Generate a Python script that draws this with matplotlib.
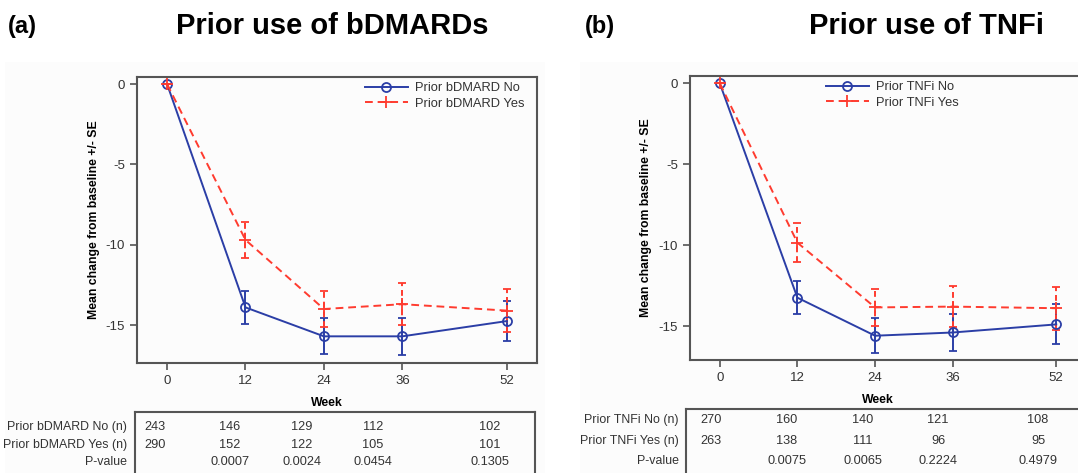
import matplotlib.pyplot as plt
from matplotlib.lines import Line2D
from matplotlib.patches import Rectangle

plt.rcParams['font.family'] = ['Liberation Sans', 'DejaVu Sans']

W, H = 1078, 473

weeks = [0, 12, 24, 36, 52]

bdmard_no_mean = [0, -13.9, -15.7, -15.7, -14.75]
bdmard_no_se = [0, 1.05, 1.13, 1.16, 1.27]
bdmard_yes_mean = [0, -9.7, -14.0, -13.7, -14.1]
bdmard_yes_se = [0, 1.14, 1.14, 1.32, 1.32]

tnfi_no_mean = [0, -13.25, -15.6, -15.4, -14.9]
tnfi_no_se = [0, 1.03, 1.08, 1.16, 1.24]
tnfi_yes_mean = [0, -9.85, -13.85, -13.8, -13.9]
tnfi_yes_se = [0, 1.2, 1.15, 1.25, 1.34]

bdmard_no_n = ['243', '146', '129', '112', '102']
bdmard_yes_n = ['290', '152', '122', '105', '101']
bdmard_p = ['', '0.0007', '0.0024', '0.0454', '0.1305']

tnfi_no_n = ['270', '160', '140', '121', '108']
tnfi_yes_n = ['263', '138', '111', '96', '95']
tnfi_p = ['', '0.0075', '0.0065', '0.2224', '0.4979']

BLUE = '#2b3ea6'
RED = '#ff3b2f'
GRAY = '#555555'
TXT = '#333333'
DASH = (0, (4, 2.5))


def px_axes(fig, left, top, right, bottom, **kw):
    # pixel box -> figure fraction
    return fig.add_axes([left / W, (H - bottom) / H, (right - left) / W, (bottom - top) / H], **kw)


def draw_panel(fig, box, ylim, no_mean, no_se, yes_mean, yes_se, label_no, label_yes,
               leg_xy, ylab_x):
    ax = px_axes(fig, *box)
    ax.set_facecolor('none')
    ax.errorbar(weeks, no_mean, yerr=no_se, color=BLUE, lw=1.4, marker='o', ms=6.5,
                mfc='none', mew=1.3, capsize=3, elinewidth=1.4, capthick=1.4)
    eb = ax.errorbar(weeks, yes_mean, yerr=yes_se, color=RED, lw=1.4, ls=DASH,
                     marker='+', ms=8, mew=1.3, capsize=3, elinewidth=1.4, capthick=1.4)
    eb[2][0].set_linestyle((0, (3, 2)))
    ax.set_xlim(-4.6, 56.6)
    ax.set_ylim(*ylim)
    ax.set_xticks(weeks)
    ax.set_yticks([0, -5, -10, -15])
    ax.set_yticklabels(['0', '-5', '-10', '-15'])
    ax.tick_params(colors=GRAY, labelcolor=TXT, labelsize=9.5, length=5, width=1.2)
    for s in ax.spines.values():
        s.set_color(GRAY)
        s.set_linewidth(1.5)
    ax.set_ylabel('Mean change from baseline +/- SE', fontsize=8.8, fontweight='bold')
    ax.yaxis.set_label_coords(ylab_x, 0.5)
    ax.set_xlabel('Week', fontsize=8.8, fontweight='bold')
    ax.xaxis.set_label_coords(0.475, -0.118)

    handles = [Line2D([], [], color=BLUE, lw=1.4, marker='o', ms=6.5, mfc='none', mew=1.3),
               Line2D([], [], color=RED, lw=1.4, ls=DASH, marker='+', ms=8, mew=1.3)]
    fig.legend(handles, [label_no, label_yes], loc='upper left',
               bbox_to_anchor=(leg_xy[0] / W, 1 - leg_xy[1] / H), frameon=False,
               fontsize=9.3, handlelength=3.3, handletextpad=0.55, labelspacing=0.3,
               borderpad=0, borderaxespad=0, labelcolor=TXT)
    return ax


def draw_table(fig, left, top, right, rows_y, label_x, col_off, rows):
    tab = px_axes(fig, left, top, right, H + 5)
    tab.set_xlim(0, right - left)
    tab.set_ylim(H + 5 - top, 0)
    tab.set_xticks([])
    tab.set_yticks([])
    tab.set_facecolor('none')
    for s in tab.spines.values():
        s.set_color(GRAY)
        s.set_linewidth(1.5)
    for (name, vals), y in zip(rows, rows_y):
        fig.text(label_x / W, 1 - y / H, name, ha='right', va='center', fontsize=8.9, color=TXT)
        for off, v in zip(col_off, vals):
            tab.text(off, y - top, v, ha='center', va='center', fontsize=9.2, color=TXT)


fig = plt.figure(figsize=(W / 100, H / 100), dpi=100)

# very faint panel backgrounds
fig.patches.append(Rectangle((5 / W, 0), 540 / W, (H - 62) / H, transform=fig.transFigure,
                             facecolor='#fcfcfc', edgecolor='none', zorder=-10))
fig.patches.append(Rectangle((580 / W, 0), (W - 580) / W, (H - 62) / H, transform=fig.transFigure,
                             facecolor='#fcfcfc', edgecolor='none', zorder=-10))

draw_panel(fig, (137, 77, 537, 363), (-17.36, 0.44),
           bdmard_no_mean, bdmard_no_se, bdmard_yes_mean, bdmard_yes_se,
           'Prior bDMARD No', 'Prior bDMARD Yes', (365, 82), -0.093)
draw_panel(fig, (690, 76, 1086, 360), (-17.1, 0.45),
           tnfi_no_mean, tnfi_no_se, tnfi_yes_mean, tnfi_yes_se,
           'Prior TNFi No', 'Prior TNFi Yes', (826, 81), -0.095)

draw_table(fig, 135, 412, 535, [427, 445, 462], 127, [20, 95, 167, 238, 355],
           [('Prior bDMARD No (n)', bdmard_no_n),
            ('Prior bDMARD Yes (n)', bdmard_yes_n),
            ('P-value', bdmard_p)])
draw_table(fig, 686, 409, 1090, [420, 441, 461], 679, [25, 101, 177, 252, 352],
           [('Prior TNFi No (n)', tnfi_no_n),
            ('Prior TNFi Yes (n)', tnfi_yes_n),
            ('P-value', tnfi_p)])

fig.text(8 / W, 1 - 27 / H, '(a)', fontsize=17, fontweight='bold', va='center', ha='left')
fig.text(332 / W, 1 - 26 / H, 'Prior use of bDMARDs', fontsize=21, fontweight='bold',
         va='center', ha='center')
fig.text(585 / W, 1 - 27 / H, '(b)', fontsize=17, fontweight='bold', va='center', ha='left')
fig.text(927 / W, 1 - 26 / H, 'Prior use of TNFi', fontsize=21, fontweight='bold',
         va='center', ha='center')

fig.savefig('out.png', dpi=100)
